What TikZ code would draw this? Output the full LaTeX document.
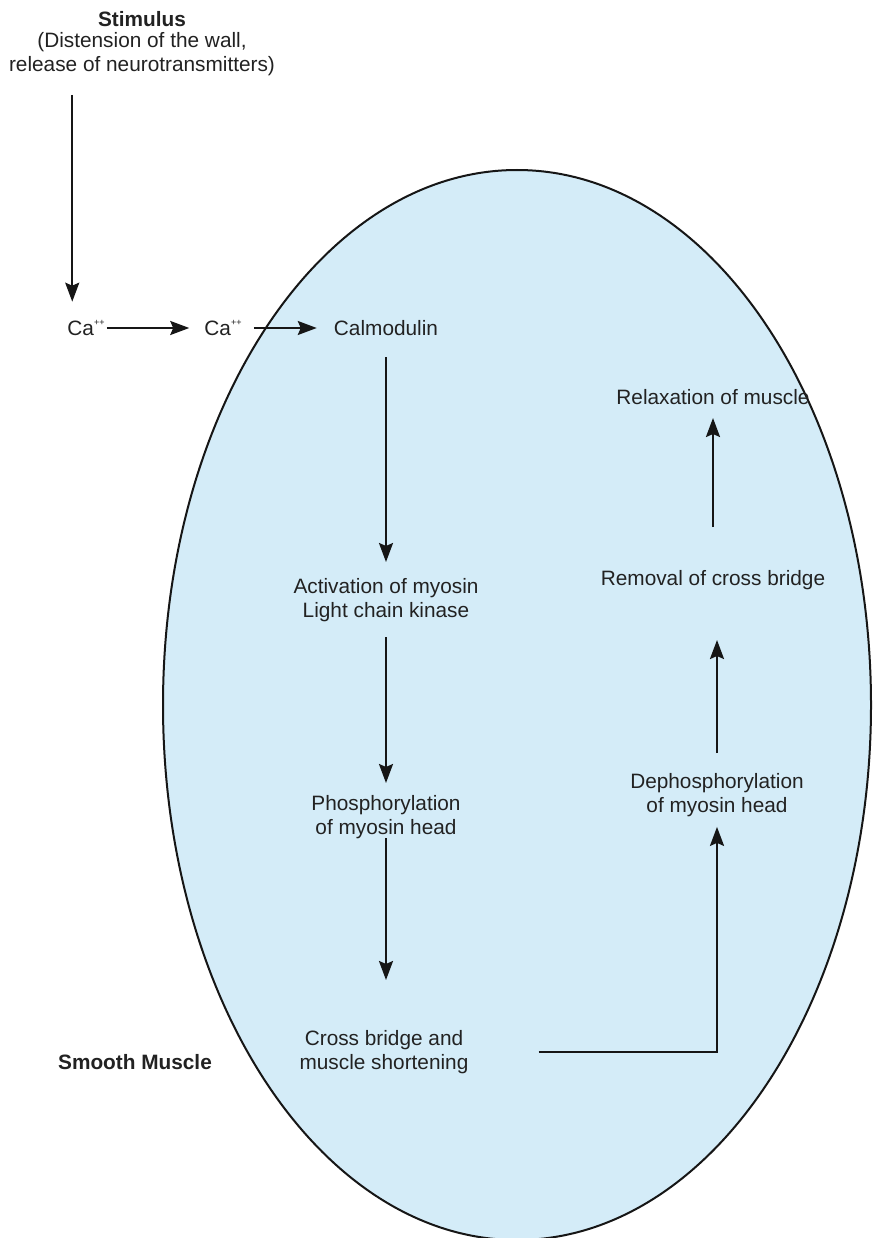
\documentclass[tikz,border=0pt]{standalone}
\usepackage{fontspec}
\setmainfont{Liberation Sans}
\usetikzlibrary{arrows.meta}

\definecolor{cellfill}{RGB}{212,236,248}
\definecolor{ink}{RGB}{34,34,34}
\definecolor{linecol}{RGB}{22,22,22}

% calcium ion with its small double plus
\newcommand{\caion}{Ca\raisebox{0.52em}{\fontsize{9}{9}\selectfont ++}}

\begin{document}
\begin{tikzpicture}[x=1pt,y=-1pt,
  lbl/.style={font=\fontsize{20.8}{24}\selectfont, text=ink, align=center, inner sep=0pt},
  boldlbl/.style={lbl, font=\bfseries\fontsize{20.8}{24}\selectfont},
  flow/.style={draw=linecol, line width=2.2pt,
    -{Stealth[length=19pt,width=14pt,inset=3pt]}},
]
\useasboundingbox (0,0) rectangle (872,1238);
\fill[white] (0,0) rectangle (872,1238);

% the smooth muscle cell
\begin{scope}
  \clip (0,0) rectangle (872,1238);
  \draw[fill=cellfill, draw=linecol, line width=2pt]
    (517,705) ellipse [x radius=354, y radius=535];
\end{scope}

% labels
\node[boldlbl] (stim) at (142,19) {Stimulus};
\node[lbl] (stimtxt) at (142,54) {(Distension of the wall,\\release of neurotransmitters)};

\node[lbl] (ca1) at (86,328) {\caion};
\node[lbl] (ca2) at (223,328) {\caion};
\node[lbl] (calm) at (386,328) {Calmodulin};
\node[lbl] (act) at (386,600) {Activation of myosin\\Light chain kinase};
\node[lbl] (phos) at (386,817) {Phosphorylation\\of myosin head};
\node[lbl] (cross) at (384,1052) {Cross bridge and\\muscle shortening};

\node[lbl] (relax) at (713,397) {Relaxation of muscle};
\node[lbl] (removal) at (713,580) {Removal of cross bridge};
\node[lbl] (dephos) at (717,795) {Dephosphorylation\\of myosin head};

\node[boldlbl] (smooth) at (135,1062) {Smooth Muscle};

% arrows
\coordinate (cadrop) at ([xshift=5pt]ca1.north west);
\draw[flow, shorten <=19pt, shorten >=18pt] (cadrop |- stimtxt.south) -- (cadrop);
\draw[flow, shorten <=2pt, shorten >=15pt] (ca1.east) -- (ca2.west);
\draw[flow, shorten <=12pt, shorten >=17pt] (ca2.east) -- (calm.west);

\draw[flow, shorten <=29pt, shorten >=38pt] (calm.center) -- (act.center);
\draw[flow, shorten <=37pt, shorten >=34pt] (act.center) -- (phos.center);
\draw[flow, shorten <=21pt, shorten >=72pt] (phos.center) -- (phos.center |- cross.center);

\draw[flow, shorten <=70pt, shorten >=10pt] (cross.east) -| (dephos.south);
\draw[flow, shorten <=42pt, shorten >=60pt] (dephos.center) -- (dephos.center |- removal.center);
\draw[flow, shorten <=53pt, shorten >=21pt] (removal.center) -- (relax.center);
\end{tikzpicture}
\end{document}
